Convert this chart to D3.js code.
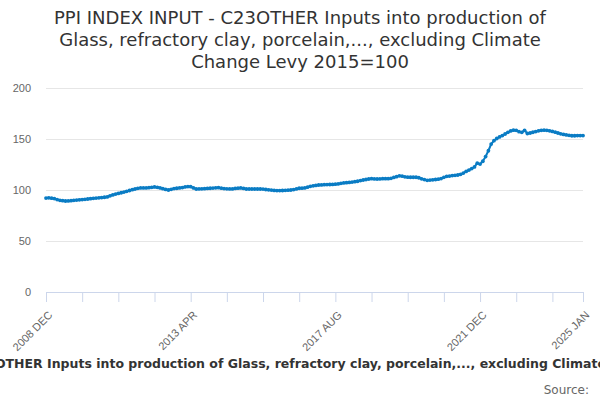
<!DOCTYPE html>
<html>
<head>
<meta charset="utf-8">
<script src="https://cdn.jsdelivr.net/npm/d3@7"></script>
<style>
  body { margin: 0; background: #fff; }
  svg { font-family: "DejaVu Sans", sans-serif; }
</style>
</head>
<body>
<svg id="svg"></svg>
<script>
const width = 600;
const height = 400;
const margin = { top: 88, right: 17, bottom: 108, left: 46 };

const titleLines = [
  'PPI INDEX INPUT - C23OTHER Inputs into production of',
  'Glass, refractory clay, porcelain,..., excluding Climate',
  'Change Levy 2015=100',
];
const seriesName = 'PPI INDEX INPUT - C23OTHER Inputs into production of Glass, refractory clay, porcelain,..., excluding Climate Change Levy 2015=100';

// monthly, 2008 DEC .. 2025 JAN
const startYear = 2008;
const startMonth = 11; // DEC
const monthNames = ['JAN', 'FEB', 'MAR', 'APR', 'MAY', 'JUN', 'JUL', 'AUG', 'SEP', 'OCT', 'NOV', 'DEC'];

const values = [
  92.1, 92.3, 92.0, 91.6, 90.6, 89.9, 89.5, 89.2, 89.3, 89.5, 89.9, 90.1,
  90.4, 90.6, 90.9, 91.2, 91.5, 91.8, 92.1, 92.3, 92.6, 92.9, 93.2, 94.3,
  95.2, 96.0, 96.6, 97.3, 98.0, 98.7, 99.5, 100.3, 101.0, 101.6, 102.0, 102.0,
  102.0, 102.3, 102.6, 103.0, 102.6, 102.0, 101.3, 100.6, 100.0, 100.7, 101.4, 101.7,
  102.0, 102.4, 103.0, 103.4, 103.3, 102.0, 101.0, 101.1, 101.2, 101.3, 101.5, 101.7,
  101.9, 102.1, 102.3, 101.8, 101.4, 101.2, 101.1, 101.1, 101.5, 101.8, 102.0, 101.5,
  101.0, 101.0, 101.0, 101.0, 101.0, 101.0, 100.9, 100.5, 100.2, 99.9, 99.6, 99.4,
  99.4, 99.5, 99.7, 99.8, 100.0, 100.4, 101.1, 101.7, 101.8, 102.0, 102.8, 103.6,
  104.1, 104.5, 104.9, 105.0, 105.2, 105.3, 105.4, 105.5, 105.7, 106.0, 106.5, 106.9,
  107.2, 107.4, 107.8, 108.2, 108.6, 109.2, 109.8, 110.3, 110.8, 111.1, 110.9, 110.8,
  110.9, 111.1, 111.1, 111.1, 111.4, 112.3, 113.1, 113.9, 113.6, 112.9, 112.6, 112.5,
  112.5, 112.5, 112.0, 111.0, 110.2, 109.5, 109.7, 110.0, 110.3, 110.6, 111.2, 112.4,
  113.4, 113.7, 114.1, 114.4, 114.7, 115.4, 116.6, 118.2, 119.5, 121.0, 122.6, 126.3,
  125.4, 128.2, 132.8, 138.5, 145.0, 148.4, 150.5, 152.0, 153.4, 154.9, 156.5, 157.9,
  158.7, 158.5, 157.2, 156.5, 158.5, 155.4, 155.9, 156.6, 157.3, 158.0, 158.5, 158.7,
  158.5, 158.0, 157.4, 156.7, 155.9, 155.1, 154.5, 154.0, 153.6, 153.2, 153.2, 153.4,
  153.4, 153.4,
];

const yTicks = [0, 50, 100, 150, 200];
const tickEvery = 13;
const labelEvery = 52;

const months = values.map((v, i) => {
  const m = startMonth + i;
  return `${startYear + Math.floor(m / 12)} ${monthNames[m % 12]}`;
});
const data = values.map((v, i) => ({ month: months[i], i, value: v }));

const svg = d3.select('#svg')
  .attr('width', width)
  .attr('height', height);

const x = d3.scaleLinear()
  .domain([0, values.length - 1])
  .range([margin.left, width - margin.right]);

const y = d3.scaleLinear()
  .domain([0, 200])
  .range([height - margin.bottom, margin.top]);

// title
svg.append('text')
  .attr('x', width / 2)
  .attr('y', 24)
  .attr('text-anchor', 'middle')
  .attr('fill', '#333')
  .style('font-size', '18px')
  .selectAll('tspan')
  .data(titleLines)
  .join('tspan')
  .attr('x', width / 2)
  .attr('dy', (d, i) => (i === 0 ? 0 : 22))
  .text(d => d);

// grid + y labels
const yAxis = d3.axisLeft(y)
  .tickValues(yTicks)
  .tickSize(-(width - margin.left - margin.right))
  .tickPadding(15);

svg.append('g')
  .attr('transform', `translate(${margin.left},0)`)
  .call(yAxis)
  .call(g => g.select('.domain').remove())
  .call(g => g.selectAll('.tick line').attr('stroke', '#e6e6e6'))
  .call(g => g.selectAll('.tick text')
    .attr('fill', '#666')
    .style('font-size', '11px'));

// x axis
const xTickValues = d3.range(0, values.length, tickEvery).concat([values.length - 1]);
const xAxis = d3.axisBottom(x)
  .tickValues(xTickValues)
  .tickSize(10)
  .tickFormat(i => (i % labelEvery === 0 || i === values.length - 1 ? months[i] : ''));

svg.append('g')
  .attr('transform', `translate(0,${y(0)})`)
  .call(xAxis)
  .call(g => g.select('.domain').attr('stroke', '#ccd6eb'))
  .call(g => g.selectAll('.tick line').attr('stroke', '#ccd6eb'))
  .call(g => g.selectAll('.tick text')
    .attr('fill', '#666')
    .style('font-size', '11px')
    .attr('text-anchor', 'end')
    .attr('transform', 'translate(4,21) rotate(-45)')
    .attr('dy', '0.35em')
    .attr('y', 0)
    .attr('x', 0));

// line
const line = d3.line()
  .x(d => x(d.i))
  .y(d => y(d.value));

svg.append('path')
  .datum(data)
  .attr('fill', 'none')
  .attr('stroke', '#0a7cc4')
  .attr('stroke-width', 2)
  .attr('d', line);

svg.append('g')
  .selectAll('circle')
  .data(data)
  .join('circle')
  .attr('cx', d => x(d.i))
  .attr('cy', d => y(d.value))
  .attr('r', 1.9)
  .attr('fill', '#0a7cc4');

// legend (overflows the frame, as in the original)
svg.append('text')
  .attr('x', 306)
  .attr('y', 368)
  .attr('text-anchor', 'middle')
  .attr('fill', '#333')
  .style('font-size', '12.5px')
  .style('font-weight', 'bold')
  .text(seriesName);

svg.append('text')
  .attr('x', 589)
  .attr('y', 394)
  .attr('text-anchor', 'end')
  .attr('fill', '#666')
  .style('font-size', '12px')
  .text('Source:');
</script>
</body>
</html>
